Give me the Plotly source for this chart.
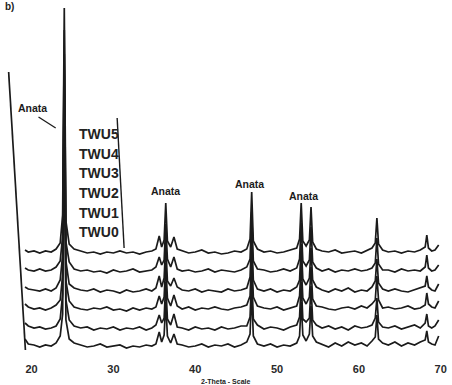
import plotly.graph_objects as go

# 2-theta grid (degrees)
two_theta = [19.2, 19.6, 20.3, 21.0, 21.7, 22.4, 23.0, 23.5,
             23.8, 24.0, 24.2, 24.6, 25.2,
             26.0, 26.8, 27.6, 28.4, 29.2, 30.0, 30.8, 31.6, 32.4, 33.2, 34.0, 34.7,
             35.2, 35.6, 35.9, 36.2, 36.4, 36.6, 37.0, 37.4, 37.8,
             38.4, 39.2, 40.0, 40.8, 41.6, 42.4, 43.2, 44.0, 44.8, 45.6,
             46.3, 46.7, 46.9, 47.1, 47.6,
             48.4, 49.2, 50.0, 50.8, 51.6, 52.4,
             52.75, 52.95, 53.15, 53.55, 53.95, 54.15, 54.35, 54.8,
             55.5, 56.3, 57.1, 57.9, 58.7, 59.5, 60.3, 61.0,
             61.6, 62.0, 62.2, 62.4, 62.9,
             63.6, 64.4, 65.2, 66.0, 66.8, 67.5,
             68.1, 68.3, 68.5,
             68.9, 69.3, 69.75]

# intensities (arb. units)
twu0 = [9, 4, 3, 1, 3, 2, 5, 12,
        34, 232, 28, 9, 5,
        3, 1, 2, 4, 1, 2, 3, 0, 2, 1, 3, 2,
        4, 16, 6, 13, 46, 12, 5, 14, 4,
        3, 1, 2, 4, 1, 3, 2, 4, 1, 3,
        6, 14, 56, 12, 4,
        2, 4, 1, 3, 2, 5,
        12, 46, 13, 7, 14, 42, 12, 6,
        4, 1, 5, 2, 6, 3, 5, 2,
        7, 11, 33, 9, 5,
        3, 6, 2, 5, 3, 6,
        8, 17, 6,
        4, 3, 12]
twu1 = [7, 4, 2, 3, 1, 2, 4, 11,
        36, 236, 30, 10, 4,
        2, 3, 0, 2, 1, 3, 0, 2, 1, 3, 0, 2,
        5, 15, 7, 12, 48, 11, 5, 16, 3,
        2, 0, 3, 1, 2, 0, 3, 1, 2, 4,
        4, 13, 57, 11, 5,
        1, 3, 2, 0, 3, 5,
        13, 48, 11, 8, 12, 44, 10, 5,
        2, 4, 1, 3, 0, 4, 2, 3,
        5, 12, 32, 8, 3,
        2, 4, 1, 3, 5, 2,
        7, 16, 4,
        2, 4, 10]
twu2 = [6, 3, 1, 2, 0, 2, 5, 10,
        35, 240, 29, 9, 3,
        1, 0, 2, 1, 3, 0, 1, -1, 2, 0, 2, 1,
        3, 14, 6, 13, 47, 12, 4, 15, 4,
        1, 3, 0, 2, 1, 3, 1, 0, 2, 3,
        5, 14, 58, 13, 4,
        2, 1, 3, 0, 2, 4,
        14, 47, 12, 6, 13, 43, 11, 4,
        3, 1, 0, 2, 3, 1, 4, 2,
        6, 10, 34, 10, 2,
        3, 1, 2, 4, 1, 2,
        5, 17, 6,
        3, 2, 9]
twu3 = [5, 3, 2, 1, 3, 1, 4, 12,
        37, 238, 31, 8, 4,
        2, 1, 3, 0, 2, 1, -1, 2, 0, 1, 3, 1,
        4, 16, 5, 14, 49, 11, 6, 14, 5,
        2, 1, 3, 0, 2, 1, 0, 3, 1, 2,
        4, 15, 59, 12, 3,
        1, 3, 0, 2, 1, 5,
        12, 48, 13, 7, 14, 44, 12, 5,
        2, 0, 3, 1, 4, 0, 2, 1,
        5, 11, 33, 9, 3,
        1, 3, 1, 0, 2, 4,
        6, 16, 5,
        2, 1, 8]
twu4 = [4, 2, 1, 3, 1, 2, 5, 11,
        36, 242, 30, 10, 3,
        1, 2, 0, 1, -1, 2, 0, 1, 3, 0, 1, 2,
        5, 15, 7, 12, 48, 13, 5, 15, 3,
        1, 2, 0, 1, 3, 0, 2, 1, 0, 2,
        5, 13, 60, 11, 3,
        2, 0, 1, 3, 1, 4,
        13, 49, 11, 6, 12, 45, 10, 4,
        1, 3, 0, 2, 1, 3, 1, 2,
        4, 9, 34, 8, 2,
        2, 0, 3, 1, 2, 1,
        5, 17, 4,
        1, 2, 7]
twu5 = [3, 1, 2, 0, 2, 1, 4, 10,
        38, 245, 32, 9, 4,
        2, 0, 1, -1, 1, 0, 2, 0, 1, -1, 1, 2,
        4, 17, 6, 13, 50, 12, 6, 16, 4,
        2, 0, 1, 3, 0, 1, -1, 0, 2, 1,
        4, 14, 61, 12, 4,
        1, 2, 0, 1, 3, 5,
        14, 50, 12, 7, 13, 46, 11, 4,
        2, 1, 3, 0, 1, 2, 0, 3,
        5, 10, 35, 9, 3,
        1, 2, 0, 2, 1, 3,
        6, 18, 5,
        2, 3, 8]

sample_names = ["TWU0", "TWU1", "TWU2", "TWU3", "TWU4", "TWU5"]
patterns = [twu0, twu1, twu2, twu3, twu4, twu5]
stack_offsets = [7, 25, 45, 63, 83, 102]

tick_values = [20, 30, 40, 50, 60, 70]
tick_labels = ["20", "30", "40", "50", "60", "70"]

peak_label_text = "Anata"
peak_label_x = [20.12, 36.42, 46.64, 53.2]
peak_label_y = [247, 164, 171, 159]

fig = go.Figure()
ink = "#1b1b1b"

for name, ys, off in zip(sample_names, patterns, stack_offsets):
    fig.add_trace(go.Scatter(
        x=two_theta, y=[v + off for v in ys], mode="lines", name=name,
        line=dict(color=ink, width=1.7), showlegend=False, hoverinfo="skip"))

# left frame line (skewed in scan) and stacking bracket
fig.add_shape(type="line", xref="x", yref="y", x0=17.2, y0=283, x1=19.25, y1=5,
              line=dict(color=ink, width=1.7))
fig.add_shape(type="line", xref="x", yref="y", x0=30.46, y0=237, x1=31.31, y1=107,
              line=dict(color=ink, width=1.4))
# leader from first label to main peak
fig.add_shape(type="line", xref="x", yref="y", x0=20.85, y0=238, x1=22.95, y1=227,
              line=dict(color=ink, width=1.3))

for xv, yv in zip(peak_label_x, peak_label_y):
    fig.add_annotation(x=xv, y=yv, xref="x", yref="y", text=peak_label_text,
                       showarrow=False, xanchor="center", yanchor="middle",
                       font=dict(family="Liberation Sans", size=10.5, color=ink, weight="bold"))

# sample labels, top to bottom TWU5..TWU0
label_y_px = [134, 154, 173, 193, 213, 232]
for name, ypx in zip(reversed(sample_names), label_y_px):
    fig.add_annotation(x=(77 - 7) / 439, y=(355 - ypx) / 350, xref="paper", yref="paper",
                       text=name, showarrow=False, xanchor="left", yanchor="middle",
                       font=dict(family="Liberation Sans", size=14, color="#222222", weight="bold"))

fig.add_annotation(x=(227 - 7) / 439, y=(355 - 376) / 350, xref="paper", yref="paper",
                   text="2-Theta - Scale", showarrow=False, xanchor="center", yanchor="top",
                   font=dict(family="Liberation Sans", size=7, color="#222222", weight="bold"))
fig.add_annotation(x=(10 - 7) / 439, y=(355 - 6) / 350, xref="paper", yref="paper",
                   text="b)", showarrow=False, xanchor="center", yanchor="middle",
                   font=dict(family="Liberation Sans", size=10, color="#222222", weight="bold"))

fig.update_layout(
    width=452, height=385,
    margin=dict(l=7, r=6, t=5, b=30),
    paper_bgcolor="white", plot_bgcolor="white",
    xaxis=dict(range=[17.0, 70.4], tickvals=tick_values, ticktext=tick_labels,
               showline=False, showgrid=False, zeroline=False, ticks="",
               ticklabelstandoff=6,
               tickfont=dict(family="Liberation Sans", size=11, color="#2a2a2a", weight="bold")),
    yaxis=dict(range=[0, 350], visible=False),
)

fig.write_html("out.html")
